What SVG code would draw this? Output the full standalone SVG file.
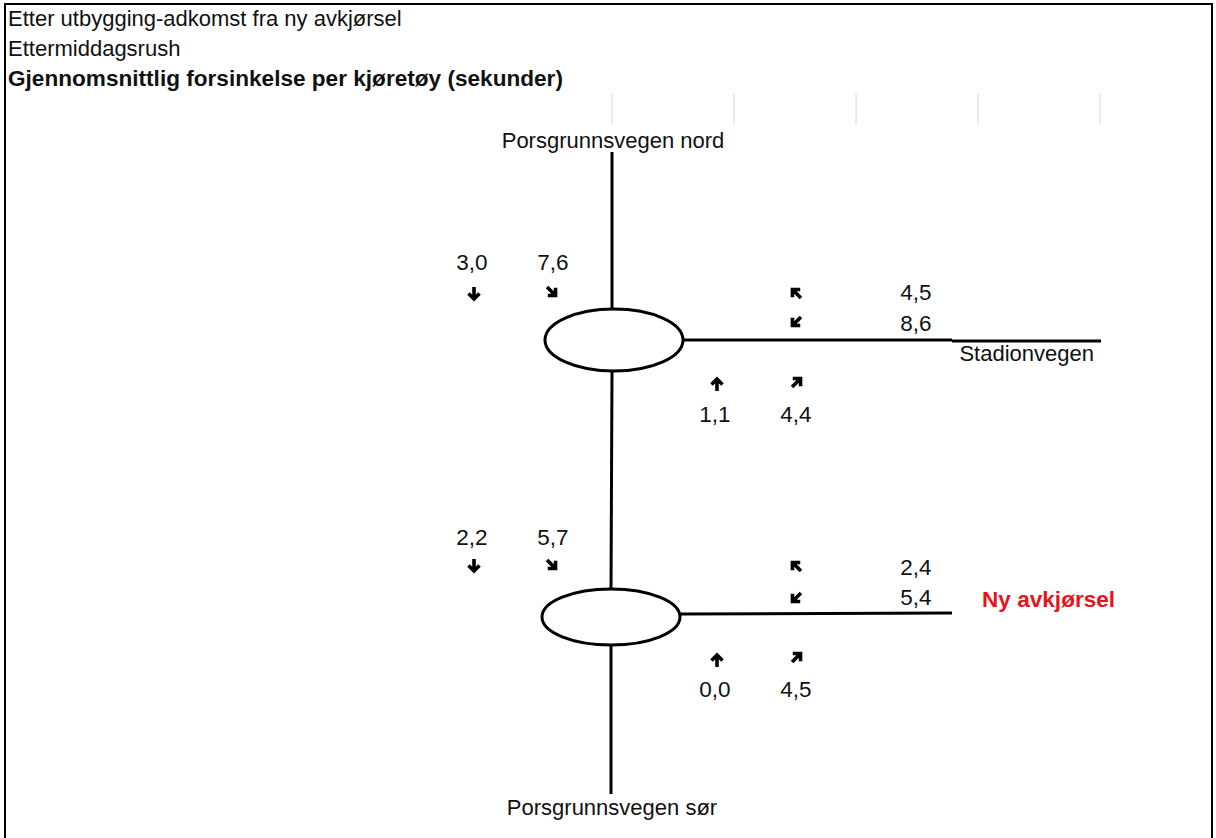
<svg xmlns="http://www.w3.org/2000/svg" width="1216" height="838" viewBox="0 0 1216 838">
<style>
text{font-family:"Liberation Sans",Arial,sans-serif;fill:#111;}
.t{font-size:22px;}
.b{font-weight:bold;font-size:22.6px;}
.n{font-size:22.5px;}
.road{stroke:#000;stroke-width:3;fill:none;}
.rb{stroke:#000;stroke-width:3;fill:#fff;}
.grid{stroke:#d8d8d8;stroke-width:1;}
.arr{stroke:#000;stroke-width:3.6;fill:none;stroke-linejoin:miter;}
</style>
<defs>
<g id="adown"><path class="arr" d="M0,-7 V5 M-5.5,-0.5 L0,5 L5.5,-0.5"/></g>
</defs>
<rect x="0" y="0" width="1216" height="838" fill="#fff"/>
<path d="M5,840 V4 H1212 V840" fill="none" stroke="#000" stroke-width="2"/>
<g id="titles">
<text class="t" x="8" y="26">Etter utbygging-adkomst fra ny avkjørsel</text>
<text class="t" x="8" y="56">Ettermiddagsrush</text>
<text class="b" x="8" y="86">Gjennomsnittlig forsinkelse per kjøretøy (sekunder)</text>
</g>
<g id="gridlines">
<line class="grid" x1="612" y1="93" x2="612" y2="125"/>
<line class="grid" x1="734" y1="93" x2="734" y2="125"/>
<line class="grid" x1="856" y1="93" x2="856" y2="125"/>
<line class="grid" x1="978" y1="93" x2="978" y2="125"/>
<line class="grid" x1="1100" y1="93" x2="1100" y2="125"/>
</g>
<g id="connectors">
<line class="road" x1="612" y1="152" x2="612" y2="310"/>
<line class="road" x1="612" y1="372" x2="611" y2="590"/>
<line class="road" x1="611" y1="646" x2="611" y2="794"/>
<path class="road" d="M683,340 H952 M952,341 H1101"/>
<line class="road" x1="681" y1="614" x2="952" y2="613"/>
</g>
<g id="roundabout-north">
<ellipse class="rb" cx="614" cy="340" rx="69" ry="31"/>
</g>
<g id="roundabout-south">
<ellipse class="rb" cx="611" cy="617" rx="69" ry="28"/>
</g>
<g id="label-nord"><text class="t" x="613" y="148" text-anchor="middle">Porsgrunnsvegen nord</text></g>
<g id="label-stadion"><text class="t" x="1094" y="361" text-anchor="end">Stadionvegen</text></g>
<g id="label-sor"><text class="t" x="612" y="815" text-anchor="middle">Porsgrunnsvegen sør</text></g>
<g id="label-ny"><text class="b" x="982" y="607" style="fill:#e8131b">Ny avkjørsel</text></g>
<g id="values-north">
<text class="n" x="472" y="270" text-anchor="middle">3,0</text>
<text class="n" x="553" y="270" text-anchor="middle">7,6</text>
<use href="#adown" transform="translate(474,294)"/>
<use href="#adown" transform="translate(552,292) rotate(-45)"/>
<text class="n" x="916" y="300" text-anchor="middle">4,5</text>
<text class="n" x="916" y="331" text-anchor="middle">8,6</text>
<use href="#adown" transform="translate(796,293) rotate(135)"/>
<use href="#adown" transform="translate(796,322) rotate(45)"/>
<text class="n" x="715" y="422" text-anchor="middle">1,1</text>
<text class="n" x="796" y="422" text-anchor="middle">4,4</text>
<use href="#adown" transform="translate(717,384) rotate(180)"/>
<use href="#adown" transform="translate(797,382) rotate(-135)"/>
</g>
<g id="values-south">
<text class="n" x="472" y="545" text-anchor="middle">2,2</text>
<text class="n" x="553" y="545" text-anchor="middle">5,7</text>
<use href="#adown" transform="translate(474,566)"/>
<use href="#adown" transform="translate(552,565) rotate(-45)"/>
<text class="n" x="916" y="575" text-anchor="middle">2,4</text>
<text class="n" x="916" y="605" text-anchor="middle">5,4</text>
<use href="#adown" transform="translate(796,566) rotate(135)"/>
<use href="#adown" transform="translate(796,598) rotate(45)"/>
<text class="n" x="715" y="697" text-anchor="middle">0,0</text>
<text class="n" x="796" y="697" text-anchor="middle">4,5</text>
<use href="#adown" transform="translate(717,660) rotate(180)"/>
<use href="#adown" transform="translate(797,657) rotate(-135)"/>
</g>
</svg>
